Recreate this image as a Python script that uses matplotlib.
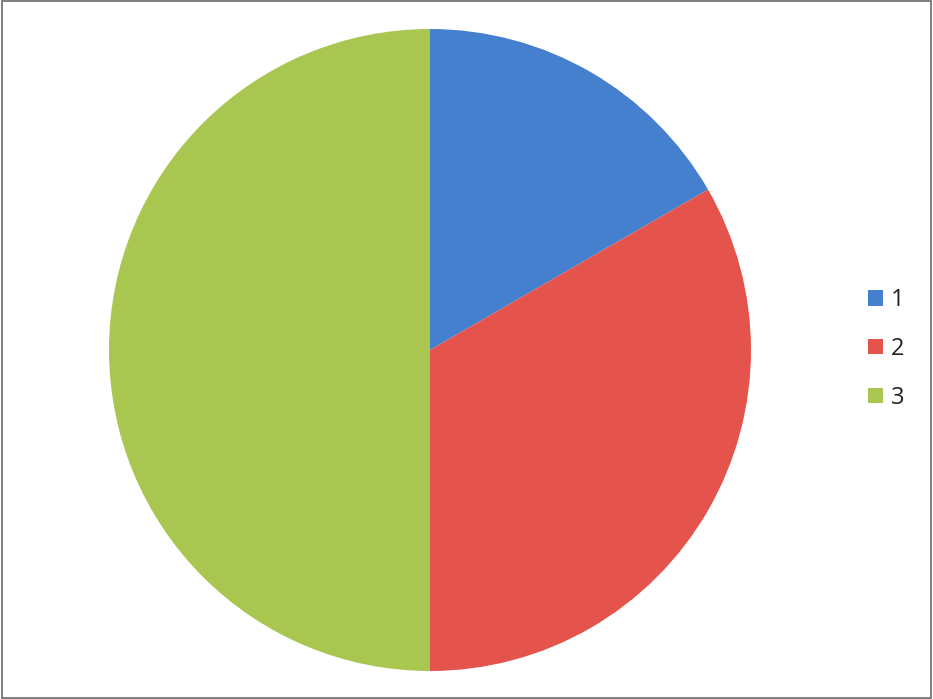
import matplotlib
matplotlib.use("Agg")
import matplotlib.pyplot as plt
from matplotlib.patches import Patch, Rectangle

labels = ["1", "2", "3"]
values = [1, 2, 3]
colors = ["#4580cf", "#e4544c", "#a9c650"]

W, H = 933, 699
fig = plt.figure(figsize=(W / 100, H / 100), dpi=100)
fig.patch.set_facecolor("white")

# chart-area frame
fig.add_artist(Rectangle((0.002, 0.002), 0.996, 0.996, transform=fig.transFigure,
                         fill=False, edgecolor="#6a6a6a", linewidth=1.2))

cx, cy, r = 430, 350, 321
ax = fig.add_axes([(cx - r) / W, (H - cy - r) / H, 2 * r / W, 2 * r / H])
ax.pie(values, colors=colors, startangle=90, counterclock=False, radius=1,
       wedgeprops=dict(linewidth=0))
ax.set_xlim(-1, 1)
ax.set_ylim(-1, 1)
ax.set_aspect("auto")
ax.axis("off")

handles = [Patch(facecolor=c, edgecolor="none") for c in colors]
leg = fig.legend(handles, labels, loc="center left", bbox_to_anchor=(868 / W, 1 - 349 / H),
                 frameon=False, prop={"family": "Open Sans", "size": 17},
                 handlelength=0.62, handleheight=0.62,
                 handletextpad=0.35, labelspacing=1.05, borderaxespad=0,
                 borderpad=0)
for t in leg.get_texts():
    t.set_color("#222222")

fig.savefig("out.png", dpi=100)
